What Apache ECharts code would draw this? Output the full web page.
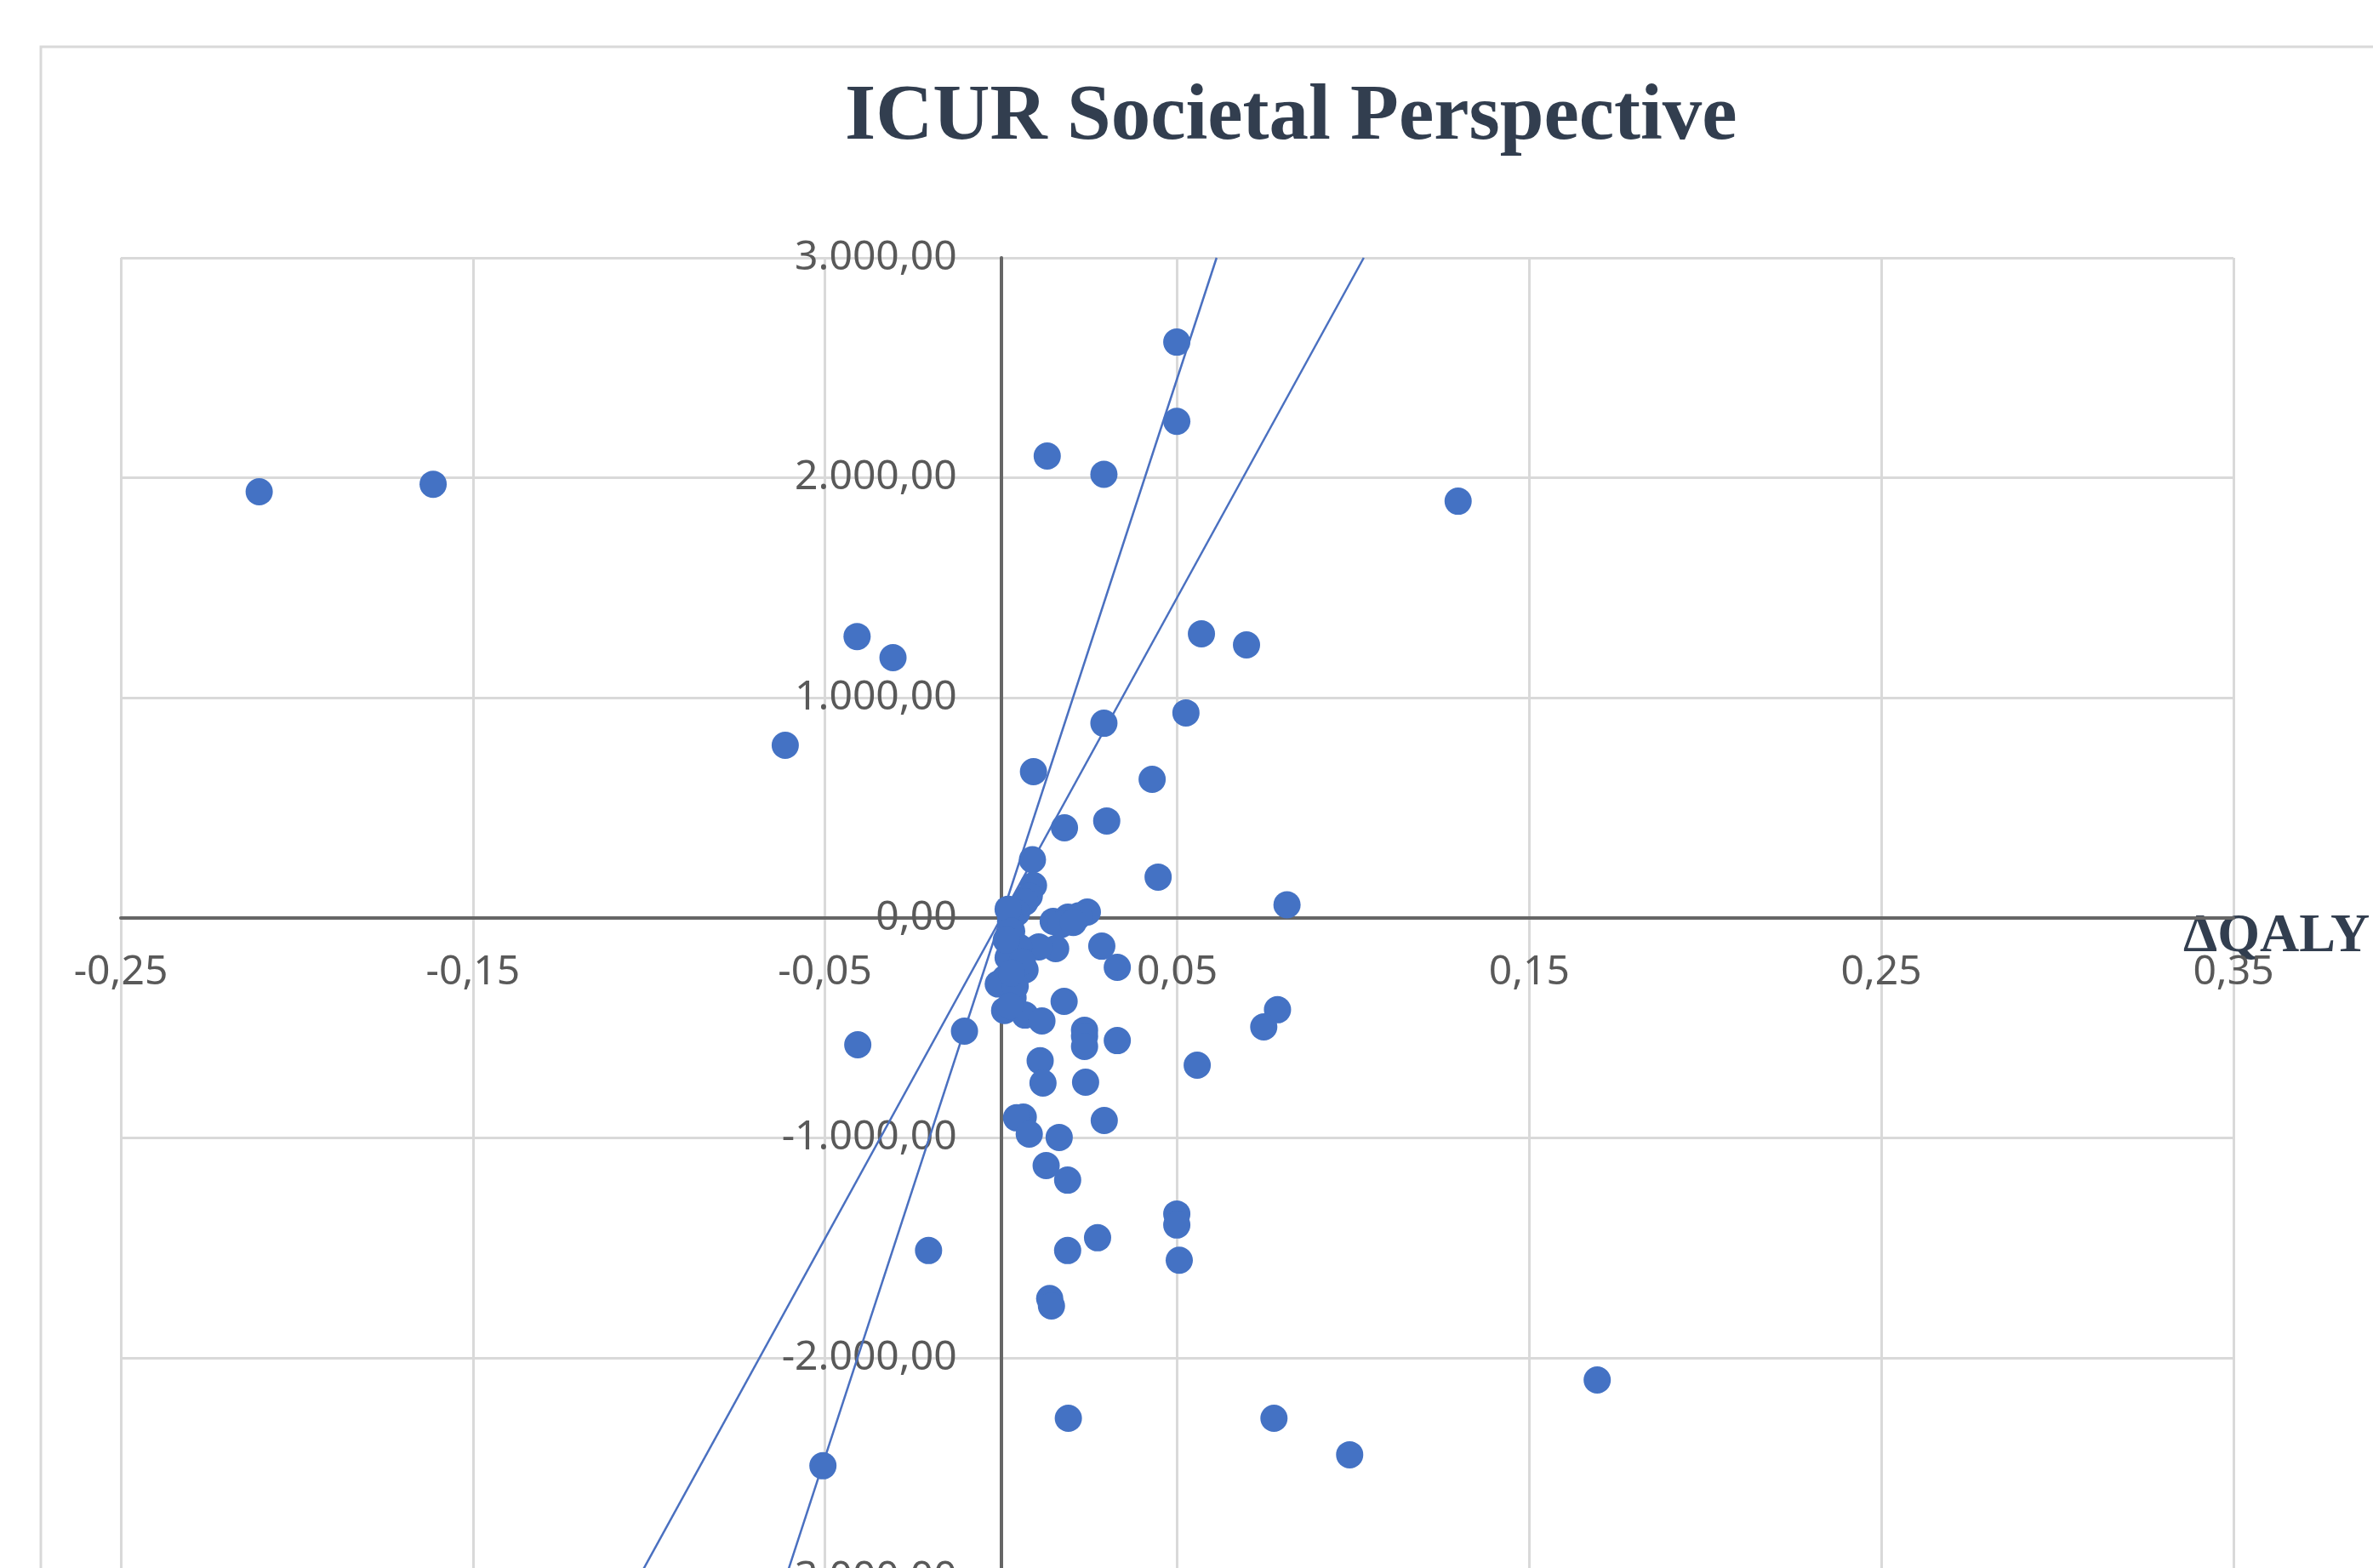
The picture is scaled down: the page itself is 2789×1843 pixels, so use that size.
<!DOCTYPE html>
<html>
<head>
<meta charset="utf-8">
<script src="https://cdn.jsdelivr.net/npm/echarts@6/dist/echarts.min.js"></script>
<style>
html,body{margin:0;padding:0;background:#ffffff;}
#chart{width:2789px;height:1843px;}
</style>
</head>
<body>
<div id="chart"></div>
<script>
// ---- Data ----
const chartTitle = 'ICUR Societal Perspective';
const xAxisName = 'ΔQALY';

// ΔQALY (x) for each simulated point
const deltaQaly = [
  -0.2107, -0.1613, 0.1298, 0.0499, 0.0499, 0.0131, 0.0292, -0.0409, -0.0307, -0.0613,
  0.0569, 0.0697, 0.0292, 0.0525, 0.0092, 0.0429, 0.0180, 0.0300, 0.0446, 0.0812,
  0.0089, 0.0092, 0.0080, 0.0068, 0.0044, 0.0027, 0.0020, 0.0148, 0.0190, 0.0245,
  0.0220, 0.0286, 0.0330, 0.0155, 0.0107, 0.0050, 0.0020, 0.0068, 0.0012, -0.0008,
  0.0034, 0.0068, 0.0116, 0.0179, 0.0010, 0.0237, 0.0237, 0.0237, 0.0330, 0.0557,
  0.0111, 0.0119, 0.0240, 0.0293, 0.0063, 0.0044, 0.0080, 0.0165, 0.0128, 0.0189,
  0.0499, 0.0499, 0.0274, 0.0189, 0.0506, 0.0138, 0.0143, 0.0785, 0.0746, -0.0407,
  -0.0104, -0.0206, -0.0506, 0.1693, 0.0191, 0.0775, 0.0990, 0.0030, 0.0015, 0.0040,
  0.0025, 0.0170, 0.0205, 0.0060, 0.0030
];
// ΔCost (y) for each simulated point
const deltaCost = [
  1937, 1971, 1894, 2617, 2257, 2099, 2016, 1279, 1183, 785,
  1291, 1241, 885, 932, 665, 630, 410, 441, 186, 60,
  265, 148, 100, 73, 23, -15, 40, -15, 4, 27,
  10, -128, -224, -139, -131, -131, -180, -236, -274, -300,
  -363, -441, -468, -379, -420, -510, -537, -584, -557, -669,
  -649, -750, -746, -920, -905, -908, -982, -997, -1125, -1191,
  -1345, -1395, -1453, -1511, -1555, -1729, -1763, -417, -495, -576,
  -514, -1511, -2489, -2099, -2273, -2273, -2439, -60, -100, -310,
  -400, -30, -20, -200, -250
];

// Willingness-to-pay threshold lines (endpoints in data units)
const thresholdLineA = [[-0.0612, -3000], [0.0612, 3000]];
const thresholdLineB = [[-0.1030, -3000], [0.1030, 3000]];

// Axis ranges / tick steps
const xRange = [-0.25, 0.35];
const xStep = 0.1;
const yRange = [-3000, 3000];
const yStep = 1000;

// ---- Layout ----
const gridLeft = 142, gridTop = 303, gridWidth = 2483, gridHeight = 1552;
// shift axes so they cross at the data origin (0,0)
const yAxisShift = -((0 - xRange[0]) / (xRange[1] - xRange[0])) * gridWidth;
const xAxisShift = -((0 - yRange[0]) / (yRange[1] - yRange[0])) * gridHeight;

// ---- Helpers ----
function fmtX(v) {
  return v.toFixed(2).replace('.', ',');
}
function fmtY(v) {
  const neg = v < 0;
  const s = Math.abs(v).toFixed(2);
  const parts = s.split('.');
  const intPart = parts[0].replace(/\B(?=(\d{3})+(?!\d))/g, '.');
  return (neg ? '-' : '') + intPart + ',' + parts[1];
}

const points = deltaQaly.map((x, i) => [x, deltaCost[i]]);

const chart = echarts.init(document.getElementById('chart'), null, {renderer: 'canvas'});

const option = {
  backgroundColor: '#ffffff',
  animation: false,
  title: {
    text: chartTitle,
    left: 988,
    top: 87,
    textStyle: {
      fontFamily: 'Liberation Serif',
      fontWeight: 'bold',
      fontSize: 93,
      color: '#323E4F'
    }
  },
  graphic: [
    {
      type: 'rect',
      silent: true,
      z: -10,
      shape: {x: 48, y: 55, width: 2800, height: 1850},
      style: {fill: '#ffffff', stroke: '#d9d9d9', lineWidth: 3}
    }
  ],
  grid: {
    left: gridLeft,
    top: gridTop,
    width: gridWidth,
    height: gridHeight,
    containLabel: false,
    outerBoundsMode: 'none'
  },
  xAxis: {
    type: 'value',
    position: 'bottom',
    offset: xAxisShift,
    min: xRange[0],
    max: xRange[1],
    interval: xStep,
    name: xAxisName,
    nameLocation: 'end',
    nameGap: -59,
    nameMoveOverlap: false,
    nameTextStyle: {
      fontFamily: 'Liberation Serif',
      fontWeight: 'bold',
      fontSize: 64,
      color: '#323E4F',
      align: 'left',
      verticalAlign: 'top',
      lineHeight: 44
    },
    axisLine: {onZero: false, lineStyle: {color: '#666666', width: 4}},
    axisTick: {show: false},
    axisLabel: {
      formatter: fmtX,
      margin: 40,
      fontFamily: 'Noto Sans',
      fontSize: 48,
      color: '#595959'
    },
    splitLine: {show: true, lineStyle: {color: '#d9d9d9', width: 3}}
  },
  yAxis: {
    type: 'value',
    position: 'left',
    offset: yAxisShift,
    min: yRange[0],
    max: yRange[1],
    interval: yStep,
    axisLine: {onZero: false, lineStyle: {color: '#666666', width: 4}},
    axisTick: {show: false},
    axisLabel: {
      formatter: fmtY,
      margin: 52,
      fontFamily: 'Noto Sans',
      fontSize: 48,
      color: '#595959'
    },
    splitLine: {show: true, lineStyle: {color: '#d9d9d9', width: 3}}
  },
  series: [
    {
      type: 'line',
      data: thresholdLineA,
      symbol: 'none',
      silent: true,
      z: 2,
      lineStyle: {color: '#4a70c0', width: 2.5}
    },
    {
      type: 'line',
      data: thresholdLineB,
      symbol: 'none',
      silent: true,
      z: 2,
      lineStyle: {color: '#4a70c0', width: 2.5}
    },
    {
      type: 'scatter',
      data: points,
      symbol: 'circle',
      symbolSize: 32,
      z: 3,
      itemStyle: {color: '#4472C4', opacity: 1}
    }
  ]
};

chart.setOption(option);
</script>
</body>
</html>
